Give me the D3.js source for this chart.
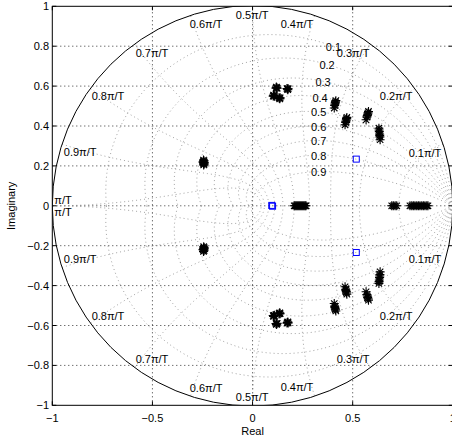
<!DOCTYPE html>
<html>
<head>
<meta charset="utf-8">
<script src="https://cdn.jsdelivr.net/npm/d3@7"></script>
<style>
  body { margin: 0; background: #fff; }
  text { font-family: "Liberation Sans", Arial, Helvetica, sans-serif; font-size: 11px; fill: #000; }
</style>
</head>
<body>
<svg id="chart" width="452" height="441"></svg>
<script>
// axis ticks
var xTicks = [-1, -0.5, 0, 0.5, 1];
var xTickLabels = ["\u22121", "\u22120.5", "0", "0.5", "1"];
var yTicks = [-1, -0.8, -0.6, -0.4, -0.2, 0, 0.2, 0.4, 0.6, 0.8, 1];
var yTickLabels = ["\u22121", "\u22120.8", "\u22120.6", "\u22120.4", "\u22120.2", "0", "0.2", "0.4", "0.6", "0.8", "1"];
var xGrid = [-0.5, 0, 0.5];
var yGrid = [-0.8, -0.6, -0.4, -0.2, 0, 0.2, 0.4, 0.6, 0.8];

// zgrid: damping ratios and natural frequencies (times pi/T)
var zetaValues = [0.1, 0.2, 0.3, 0.4, 0.5, 0.6, 0.7, 0.8, 0.9];
var zetaLabels = ["0.1", "0.2", "0.3", "0.4", "0.5", "0.6", "0.7", "0.8", "0.9"];
var zetaLabelRe = [0.404, 0.372, 0.352, 0.337, 0.330, 0.330, 0.330, 0.330, 0.330];
var zetaLabelIm = [0.797, 0.706, 0.619, 0.542, 0.472, 0.396, 0.326, 0.251, 0.171];

var wnValues = [0.1, 0.2, 0.3, 0.4, 0.5, 0.6, 0.7, 0.8, 0.9, 1];
var wnLabels = ["0.1\u03c0/T", "0.2\u03c0/T", "0.3\u03c0/T", "0.4\u03c0/T", "0.5\u03c0/T",
                "0.6\u03c0/T", "0.7\u03c0/T", "0.8\u03c0/T", "0.9\u03c0/T", "\u03c0/T"];
var wnLabelRe = [0.861, 0.717, 0.502, 0.222, -0.002, -0.232, -0.502, -0.722, -0.861, -0.99];
var wnLabelIm = [0.266, 0.551, 0.767, 0.910, 0.957, 0.912, 0.768, 0.551, 0.268, 0.030];

// poles (black asterisks)
var poleRe = [
  -0.245, -0.242, -0.246, -0.243, -0.245, -0.242, -0.244, -0.247, -0.241,
  -0.245, -0.242, -0.246, -0.243, -0.245, -0.242, -0.244, -0.247, -0.241,
  0.119, 0.123, 0.121, 0.117, 0.172, 0.176, 0.174, 0.178, 0.105, 0.109, 0.107, 0.103, 0.132, 0.136, 0.134, 0.138,
  0.119, 0.123, 0.121, 0.117, 0.172, 0.176, 0.174, 0.178, 0.105, 0.109, 0.107, 0.103, 0.132, 0.136, 0.134, 0.138,
  0.416, 0.414, 0.413, 0.411, 0.410, 0.408, 0.416, 0.414, 0.413, 0.411, 0.410, 0.408,
  0.471, 0.469, 0.468, 0.466, 0.465, 0.462, 0.471, 0.469, 0.468, 0.466, 0.465, 0.462,
  0.579, 0.577, 0.575, 0.573, 0.571, 0.567, 0.579, 0.577, 0.575, 0.573, 0.571, 0.567,
  0.631, 0.632, 0.633, 0.634, 0.635, 0.636, 0.637, 0.631, 0.632, 0.633, 0.634, 0.635, 0.636, 0.637,
  0.208, 0.213, 0.218, 0.223, 0.228, 0.233, 0.238, 0.243, 0.248, 0.253, 0.258, 0.263, 0.267,
  0.695, 0.703, 0.712, 0.720,
  0.786, 0.795, 0.803, 0.811, 0.820, 0.828, 0.836, 0.845, 0.853, 0.861, 0.870, 0.876
];
var poleIm = [
  0.229, 0.225, 0.221, 0.217, 0.213, 0.209, 0.205, 0.219, 0.215,
  -0.229, -0.225, -0.221, -0.217, -0.213, -0.209, -0.205, -0.219, -0.215,
  0.595, 0.589, 0.592, 0.590, 0.588, 0.582, 0.585, 0.587, 0.555, 0.549, 0.552, 0.550, 0.542, 0.536, 0.539, 0.541,
  -0.595, -0.589, -0.592, -0.590, -0.588, -0.582, -0.585, -0.587, -0.555, -0.549, -0.552, -0.550, -0.542, -0.536, -0.539, -0.541,
  0.527, 0.521, 0.516, 0.509, 0.503, 0.490, -0.527, -0.521, -0.516, -0.509, -0.503, -0.490,
  0.443, 0.437, 0.430, 0.424, 0.418, 0.406, -0.443, -0.437, -0.430, -0.424, -0.418, -0.406,
  0.473, 0.466, 0.459, 0.452, 0.445, 0.431, -0.473, -0.466, -0.459, -0.452, -0.445, -0.431,
  0.389, 0.380, 0.372, 0.360, 0.352, 0.345, 0.331, -0.389, -0.380, -0.372, -0.360, -0.352, -0.345, -0.331,
  0, 0, 0, 0, 0, 0, 0, 0, 0, 0, 0, 0, 0,
  0, 0, 0, 0,
  0, 0, 0, 0, 0, 0, 0, 0, 0, 0, 0, 0
];

// zeros (blue squares)
var zeroRe = [0.096, 0.100, 0.518, 0.518];
var zeroIm = [0.002, -0.002, 0.234, -0.234];

var svg = d3.select("#chart");
var x = d3.scaleLinear().domain([-1, 1]).range([52.3, 452.8]);
var y = d3.scaleLinear().domain([-1, 1]).range([405.3, 6.3]);

svg.append("rect").attr("width", 452).attr("height", 441).attr("fill", "#fff");

svg.append("clipPath").attr("id", "plotClip")
  .append("rect")
  .attr("x", x(-1)).attr("y", y(1))
  .attr("width", x(1) - x(-1)).attr("height", y(-1) - y(1));

var plot = svg.append("g").attr("clip-path", "url(#plotClip)");

// cartesian grid
plot.selectAll(".xg").data(xGrid).enter().append("line")
  .attr("x1", d => x(d)).attr("x2", d => x(d))
  .attr("y1", y(-1)).attr("y2", y(1))
  .attr("stroke", "#000").attr("stroke-width", 0.8).attr("stroke-dasharray", "1,3");
plot.selectAll(".yg").data(yGrid).enter().append("line")
  .attr("y1", d => y(d)).attr("y2", d => y(d))
  .attr("x1", x(-1)).attr("x2", x(1))
  .attr("stroke", "#000").attr("stroke-width", 0.8).attr("stroke-dasharray", "1,3");

var line = d3.line().x(d => x(d[0])).y(d => y(d[1]));
var steps = d3.range(0, 101).map(i => i / 100);

// constant damping curves  z = exp(theta * (-m + j)), theta 0..pi
zetaValues.forEach(function(z) {
  var m = z / Math.sqrt(1 - z * z);
  [1, -1].forEach(function(sgn) {
    var pts = steps.map(function(t) {
      var th = t * Math.PI, r = Math.exp(-m * th);
      return [r * Math.cos(th), sgn * r * Math.sin(th)];
    });
    plot.append("path").attr("d", line(pts))
      .attr("fill", "none").attr("stroke", "#8c8c8c").attr("stroke-width", 0.8)
      .attr("stroke-dasharray", "1,3");
  });
});

// constant natural frequency curves  z = exp(wn * e^{j phi}), phi pi/2..pi
wnValues.forEach(function(w) {
  var wn = w * Math.PI;
  [1, -1].forEach(function(sgn) {
    var pts = steps.map(function(t) {
      var ph = Math.PI / 2 + t * Math.PI / 2;
      var re = wn * Math.cos(ph), im = wn * Math.sin(ph);
      var r = Math.exp(re);
      return [r * Math.cos(im), sgn * r * Math.sin(im)];
    });
    plot.append("path").attr("d", line(pts))
      .attr("fill", "none").attr("stroke", "#8c8c8c").attr("stroke-width", 0.8)
      .attr("stroke-dasharray", "1,3");
  });
});

// unit circle
plot.append("circle")
  .attr("cx", x(0)).attr("cy", y(0))
  .attr("r", x(1) - x(0))
  .attr("fill", "none").attr("stroke", "#000").attr("stroke-width", 1);

// grid labels
zetaLabels.forEach(function(t, i) {
  plot.append("text").attr("x", x(zetaLabelRe[i])).attr("y", y(zetaLabelIm[i]))
    .attr("text-anchor", "middle").attr("dominant-baseline", "central").text(t);
});
wnLabels.forEach(function(t, i) {
  [1, -1].forEach(function(sgn) {
    plot.append("text").attr("x", x(wnLabelRe[i])).attr("y", y(sgn * wnLabelIm[i]))
      .attr("text-anchor", i == 9 ? "start" : "middle")
      .attr("dominant-baseline", "central").text(t);
  });
});

// poles
var star = "M-4.5,0H4.5M0,-4.5V4.5M-3.2,-3.2L3.2,3.2M-3.2,3.2L3.2,-3.2";
plot.selectAll(".pole").data(poleRe).enter().append("path")
  .attr("d", star)
  .attr("transform", (d, i) => "translate(" + x(d) + "," + y(poleIm[i]) + ")")
  .attr("fill", "none").attr("stroke", "#000").attr("stroke-width", 1.1);

// zeros
plot.selectAll(".zero").data(zeroRe).enter().append("rect")
  .attr("x", (d) => x(d) - 3).attr("y", (d, i) => y(zeroIm[i]) - 3)
  .attr("width", 6).attr("height", 6)
  .attr("fill", "none").attr("stroke", "#0000ff").attr("stroke-width", 1);

// axes box and ticks
svg.append("rect")
  .attr("x", x(-1)).attr("y", y(1))
  .attr("width", x(1) - x(-1)).attr("height", y(-1) - y(1))
  .attr("fill", "none").attr("stroke", "#000").attr("stroke-width", 1);

xTicks.forEach(function(d) {
  svg.append("line").attr("x1", x(d)).attr("x2", x(d)).attr("y1", y(-1)).attr("y2", y(-1) - 4).attr("stroke", "#000");
  svg.append("line").attr("x1", x(d)).attr("x2", x(d)).attr("y1", y(1)).attr("y2", y(1) + 4).attr("stroke", "#000");
});
yTicks.forEach(function(d) {
  svg.append("line").attr("y1", y(d)).attr("y2", y(d)).attr("x1", x(-1)).attr("x2", x(-1) + 4).attr("stroke", "#000");
  svg.append("line").attr("y1", y(d)).attr("y2", y(d)).attr("x1", x(1)).attr("x2", x(1) - 4).attr("stroke", "#000");
});

svg.selectAll(".xt").data(xTicks).enter().append("text")
  .attr("x", d => x(d)).attr("y", 421.5)
  .attr("text-anchor", "middle")
  .text((d, i) => xTickLabels[i]);
svg.selectAll(".yt").data(yTicks).enter().append("text")
  .attr("x", 49).attr("y", d => y(d))
  .attr("text-anchor", "end").attr("dominant-baseline", "central")
  .text((d, i) => yTickLabels[i]);

svg.append("text").attr("x", x(0)).attr("y", 435).attr("text-anchor", "middle").text("Real");
svg.append("text").attr("transform", "translate(15," + y(0) + ") rotate(-90)")
  .attr("text-anchor", "middle").text("Imaginary");
</script>
</body>
</html>
